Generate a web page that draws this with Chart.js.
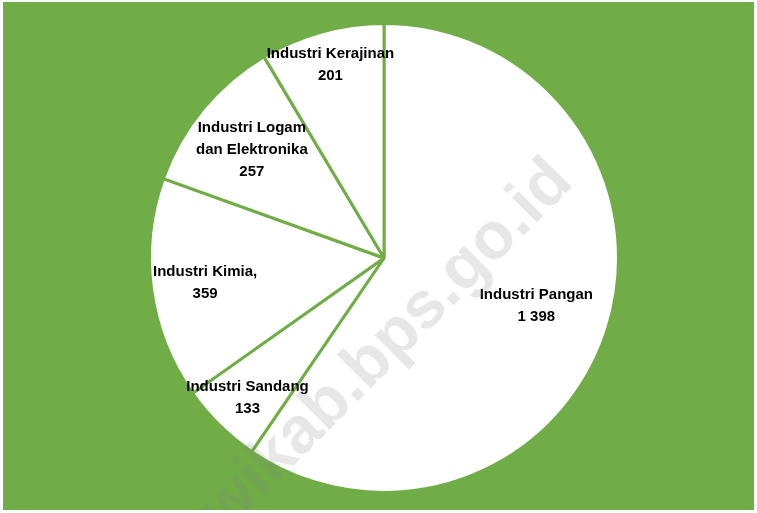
<!DOCTYPE html>
<html>
<head>
<meta charset="utf-8">
<script src="https://cdn.jsdelivr.net/npm/chart.js@4"></script>
<style>
  html, body { margin: 0; padding: 0; background: #ffffff; }
  #wrap { position: absolute; left: 3px; top: 2px; width: 751px; height: 508px; background: #70AD47; }
</style>
</head>
<body>
<div id="wrap"><canvas id="pie"></canvas></div>
<script>
// data (jumlah perusahaan industri)
const categories = ["Industri Pangan", "Industri Sandang", "Industri Kimia,", "Industri Logam|dan Elektronika", "Industri Kerajinan"];
const values = [1398, 133, 359, 257, 201];
const valueLabels = ["1 398", "133", "359", "257", "201"];

// label distance from the center, as a fraction of the radius
const labelDist = [0.68, 0.83, 0.77, 0.73, 0.86];

const sliceLabels = {
    id: 'sliceLabels',
    afterDatasetsDraw(chart) {
        const ctx = chart.ctx;
        const meta = chart.getDatasetMeta(0);
        ctx.save();
        ctx.font = "bold 15px 'Liberation Sans', Arial, sans-serif";
        ctx.fillStyle = "#000000";
        ctx.textAlign = "center";
        ctx.textBaseline = "middle";
        meta.data.forEach((arc, i) => {
            const p = arc.getProps(['x', 'y', 'startAngle', 'endAngle', 'outerRadius'], true);
            const mid = (p.startAngle + p.endAngle) / 2;
            const r = p.outerRadius * labelDist[i];
            const cx = p.x + Math.cos(mid) * r;
            const cy = p.y + Math.sin(mid) * r;
            const lines = categories[i].split("|").concat([valueLabels[i]]);
            const lh = 22;
            const top = cy - (lines.length - 1) * lh / 2 + 1;
            lines.forEach((t, k) => ctx.fillText(t, cx, top + k * lh));
        });
        ctx.restore();
    }
};

const watermark = {
    id: 'watermark',
    afterDraw(chart) {
        const ctx = chart.ctx;
        ctx.save();
        ctx.translate(572, 182);
        ctx.rotate(-45 * Math.PI / 180);
        ctx.font = "bold 66px 'Liberation Sans', Arial, sans-serif";
        ctx.fillStyle = "rgba(128,128,128,0.19)";
        ctx.textAlign = "right";
        ctx.textBaseline = "alphabetic";
        ctx.fillText("ngawikab.bps.go.id", 0, 0);
        ctx.restore();
    }
};

new Chart(document.getElementById("pie"), {
    type: 'pie',
    data: {
        labels: categories,
        datasets: [{
            data: values,
            backgroundColor: "#FFFFFF",
            borderColor: "#70AD47",
            borderWidth: 3,
            borderAlign: 'center'
        }]
    },
    options: {
        responsive: true,
        maintainAspectRatio: false,
        animation: false,
        layout: {
            padding: { left: 11, right: 0, top: 20, bottom: 16 }
        },
        plugins: {
            legend: { display: false },
            title: { display: false },
            tooltip: { enabled: false }
        }
    },
    plugins: [sliceLabels, watermark]
});
</script>
</body>
</html>
